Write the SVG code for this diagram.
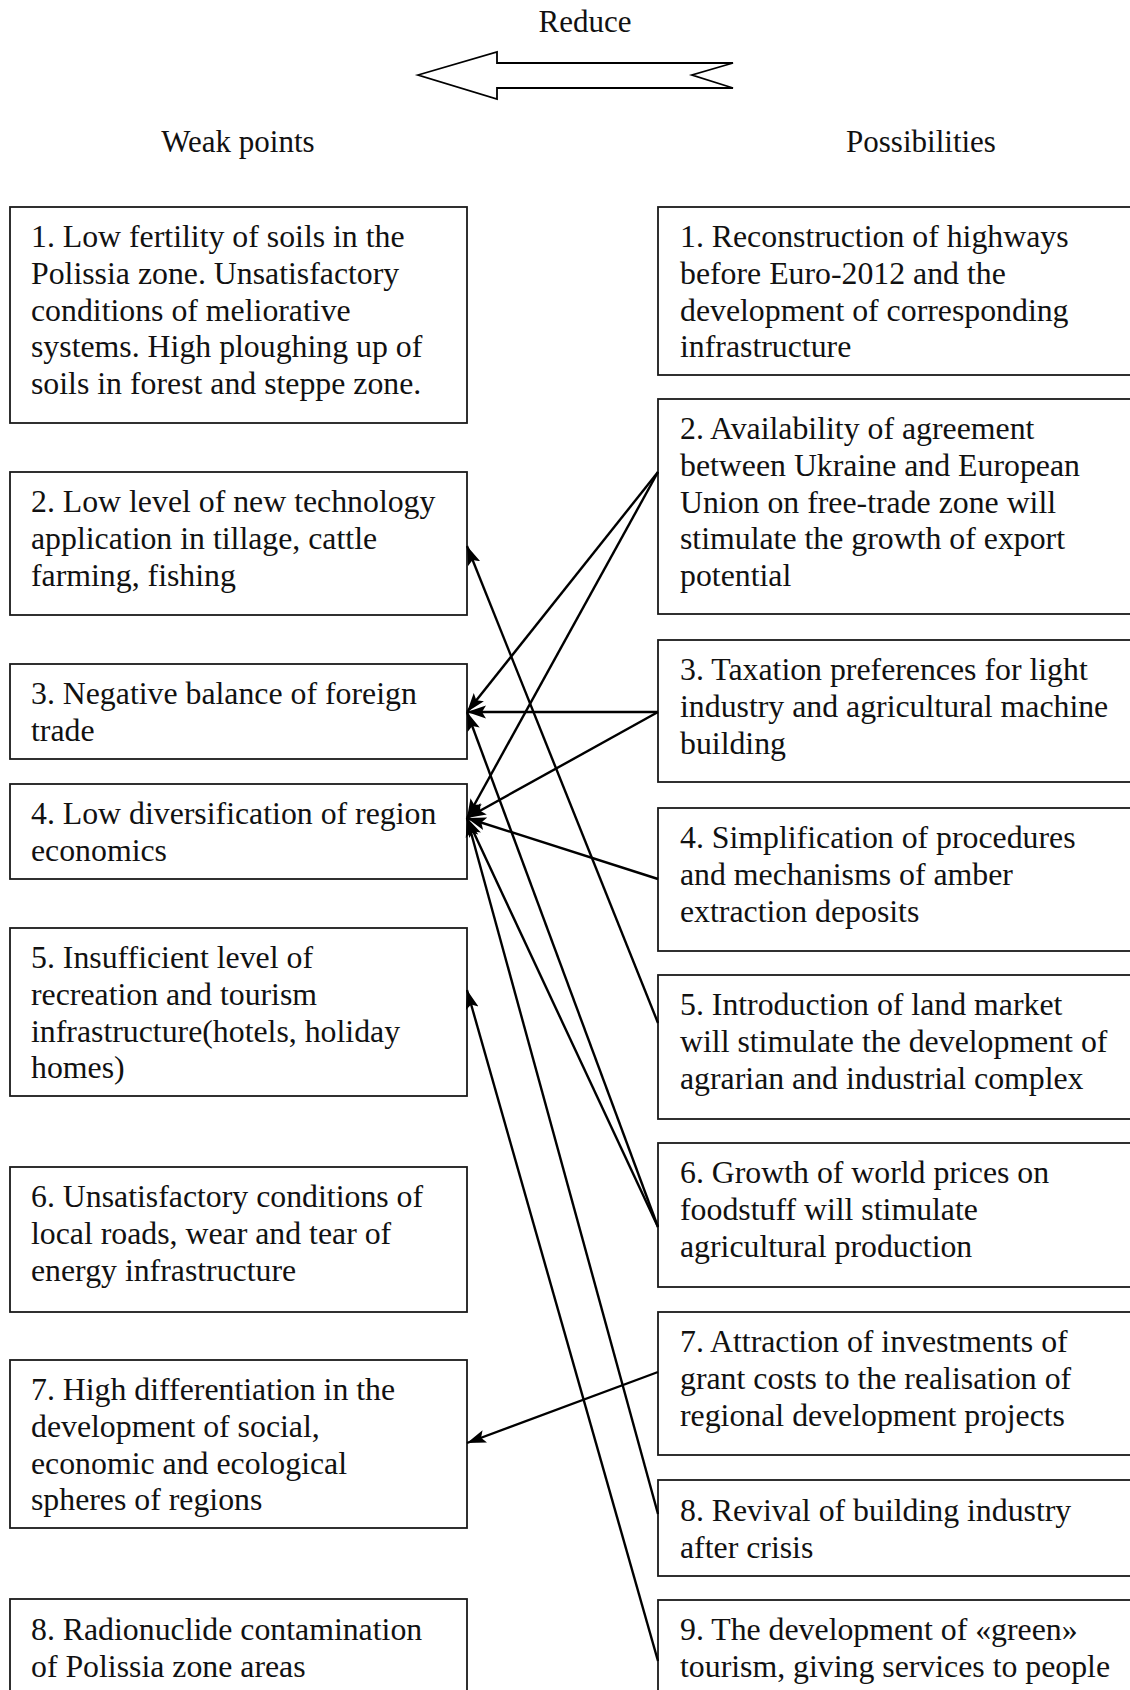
<svg xmlns="http://www.w3.org/2000/svg" width="1130" height="1690" viewBox="0 0 1130 1690">
  <style>
    .box { fill: #ffffff; stroke: #1a1a1a; stroke-width: 1.8; }
    .t { font-family: "Liberation Serif", "Times New Roman", serif; font-size: 31.8px; fill: #111111; }
    .hdr { font-family: "Liberation Serif", "Times New Roman", serif; font-size: 31px; fill: #111111; }
    .link { stroke: #000000; stroke-width: 2.4; fill: none; marker-end: url(#head); }
  </style>
  <defs>
    <marker id="head" markerUnits="userSpaceOnUse" markerWidth="20" markerHeight="14" refX="19" refY="7" orient="auto">
      <path d="M0,0.5 L19,7 L0,13.5 L4,7 z" fill="#000000"/>
    </marker>
  </defs>
  <rect width="1130" height="1690" fill="#ffffff"/>

  <!-- title and the big hollow arrow -->
  <g id="title">
    <text class="hdr" x="585" y="32" text-anchor="middle">Reduce</text>
    <path d="M418,75 L497,52 L497,63 L733,63 L692,75 L733,88 L497,88 L497,99 Z" fill="#ffffff" stroke="#000000" stroke-width="1.8" stroke-linejoin="miter"/>
  </g>
  <g id="col-weak">
    <text class="hdr" x="238" y="152" text-anchor="middle">Weak points</text>
  </g>
  <g id="col-poss">
    <text class="hdr" x="921" y="152" text-anchor="middle">Possibilities</text>
  </g>

  <!-- weak points -->
  <g id="weak-1">
    <rect class="box" x="10" y="207" width="457" height="216"/>
    <text class="t"><tspan x="31" y="247">1. Low fertility of soils in the</tspan><tspan x="31" y="283.8">Polissia zone. Unsatisfactory</tspan><tspan x="31" y="320.6">conditions of meliorative</tspan><tspan x="31" y="357.4">systems. High ploughing up of</tspan><tspan x="31" y="394.2">soils in forest and steppe zone.</tspan></text>
  </g>
  <g id="weak-2">
    <rect class="box" x="10" y="472" width="457" height="143"/>
    <text class="t"><tspan x="31" y="512">2. Low level of new technology</tspan><tspan x="31" y="548.8">application in tillage, cattle</tspan><tspan x="31" y="585.6">farming, fishing</tspan></text>
  </g>
  <g id="weak-3">
    <rect class="box" x="10" y="664" width="457" height="95"/>
    <text class="t"><tspan x="31" y="704">3. Negative balance of foreign</tspan><tspan x="31" y="740.8">trade</tspan></text>
  </g>
  <g id="weak-4">
    <rect class="box" x="10" y="784" width="457" height="95"/>
    <text class="t"><tspan x="31" y="824">4. Low diversification of region</tspan><tspan x="31" y="860.8">economics</tspan></text>
  </g>
  <g id="weak-5">
    <rect class="box" x="10" y="928" width="457" height="168"/>
    <text class="t"><tspan x="31" y="968">5. Insufficient level of</tspan><tspan x="31" y="1004.8">recreation and tourism</tspan><tspan x="31" y="1041.6">infrastructure(hotels, holiday</tspan><tspan x="31" y="1078.4">homes)</tspan></text>
  </g>
  <g id="weak-6">
    <rect class="box" x="10" y="1167" width="457" height="145"/>
    <text class="t"><tspan x="31" y="1207">6. Unsatisfactory conditions of</tspan><tspan x="31" y="1243.8">local roads, wear and tear of</tspan><tspan x="31" y="1280.6">energy infrastructure</tspan></text>
  </g>
  <g id="weak-7">
    <rect class="box" x="10" y="1360" width="457" height="168"/>
    <text class="t"><tspan x="31" y="1400">7. High differentiation in the</tspan><tspan x="31" y="1436.8">development of social,</tspan><tspan x="31" y="1473.6">economic and ecological</tspan><tspan x="31" y="1510.4">spheres of regions</tspan></text>
  </g>
  <g id="weak-8">
    <rect class="box" x="10" y="1599" width="457" height="200"/>
    <text class="t"><tspan x="31" y="1640">8. Radionuclide contamination</tspan><tspan x="31" y="1676.8">of Polissia zone areas</tspan></text>
  </g>

  <!-- possibilities -->
  <g id="poss-1">
    <rect class="box" x="658" y="207" width="500" height="168"/>
    <text class="t"><tspan x="680" y="247">1. Reconstruction of highways</tspan><tspan x="680" y="283.8">before Euro-2012 and the</tspan><tspan x="680" y="320.6">development of corresponding</tspan><tspan x="680" y="357.4">infrastructure</tspan></text>
  </g>
  <g id="poss-2">
    <rect class="box" x="658" y="399" width="500" height="215"/>
    <text class="t"><tspan x="680" y="439">2. Availability of agreement</tspan><tspan x="680" y="475.8">between Ukraine and European</tspan><tspan x="680" y="512.6">Union on free-trade zone will</tspan><tspan x="680" y="549.4">stimulate the growth of export</tspan><tspan x="680" y="586.2">potential</tspan></text>
  </g>
  <g id="poss-3">
    <rect class="box" x="658" y="640" width="500" height="142"/>
    <text class="t"><tspan x="680" y="680">3. Taxation preferences for light</tspan><tspan x="680" y="716.8">industry and agricultural machine</tspan><tspan x="680" y="753.6">building</tspan></text>
  </g>
  <g id="poss-4">
    <rect class="box" x="658" y="808" width="500" height="143"/>
    <text class="t"><tspan x="680" y="848">4. Simplification of procedures</tspan><tspan x="680" y="884.8">and mechanisms of amber</tspan><tspan x="680" y="921.6">extraction deposits</tspan></text>
  </g>
  <g id="poss-5">
    <rect class="box" x="658" y="975" width="500" height="144"/>
    <text class="t"><tspan x="680" y="1015">5. Introduction of land market</tspan><tspan x="680" y="1051.8">will stimulate the development of</tspan><tspan x="680" y="1088.6">agrarian and industrial complex</tspan></text>
  </g>
  <g id="poss-6">
    <rect class="box" x="658" y="1143" width="500" height="144"/>
    <text class="t"><tspan x="680" y="1183">6. Growth of world prices on</tspan><tspan x="680" y="1219.8">foodstuff will stimulate</tspan><tspan x="680" y="1256.6">agricultural production</tspan></text>
  </g>
  <g id="poss-7">
    <rect class="box" x="658" y="1312" width="500" height="143"/>
    <text class="t"><tspan x="680" y="1352">7. Attraction of investments of</tspan><tspan x="680" y="1388.8">grant costs to the realisation of</tspan><tspan x="680" y="1425.6">regional development projects</tspan></text>
  </g>
  <g id="poss-8">
    <rect class="box" x="658" y="1480" width="500" height="96"/>
    <text class="t"><tspan x="680" y="1521">8. Revival of building industry</tspan><tspan x="680" y="1557.8">after crisis</tspan></text>
  </g>
  <g id="poss-9">
    <rect class="box" x="658" y="1600" width="500" height="200"/>
    <text class="t"><tspan x="680" y="1640">9. The development of «green»</tspan><tspan x="680" y="1676.8">tourism, giving services to people</tspan></text>
  </g>

  <!-- links: possibility -> weak point it reduces -->
  <g id="links">
    <line class="link" x1="658" y1="472" x2="467" y2="712"/>
    <line class="link" x1="658" y1="472" x2="467" y2="818"/>
    <line class="link" x1="658" y1="712" x2="467" y2="712"/>
    <line class="link" x1="658" y1="712" x2="467" y2="818"/>
    <line class="link" x1="658" y1="879" x2="467" y2="818"/>
    <line class="link" x1="658" y1="1023" x2="467" y2="546"/>
    <line class="link" x1="658" y1="1227" x2="467" y2="712"/>
    <line class="link" x1="658" y1="1227" x2="467" y2="818"/>
    <line class="link" x1="658" y1="1514" x2="467" y2="818"/>
    <line class="link" x1="658" y1="1372" x2="467" y2="1443"/>
    <line class="link" x1="658" y1="1661" x2="467" y2="990"/>
  </g>
</svg>
